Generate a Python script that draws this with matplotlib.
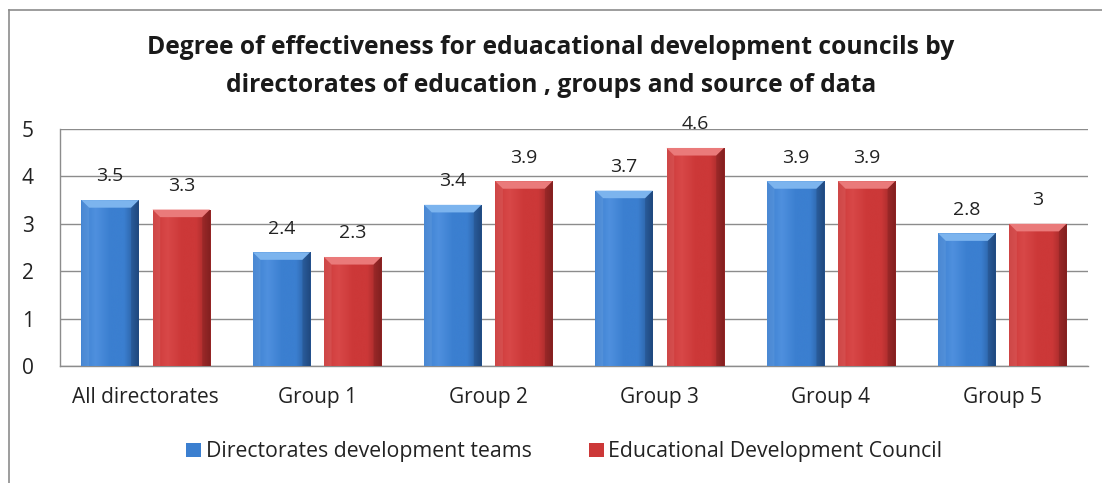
import numpy as np
import matplotlib.pyplot as plt
from matplotlib.patches import Polygon
from matplotlib.colors import LinearSegmentedColormap
from matplotlib.lines import Line2D

plt.rcParams['font.family'] = ['Open Sans', 'DejaVu Sans']

categories = ['All directorates', 'Group 1', 'Group 2', 'Group 3', 'Group 4', 'Group 5']
teams = [3.5, 2.4, 3.4, 3.7, 3.9, 2.8]
council = [3.3, 2.3, 3.9, 4.6, 3.9, 3.0]
series_names = ['Directorates development teams', 'Educational Development Council']
yticks = [0, 1, 2, 3, 4, 5]

# (dark edge, body, light highlight, bevel top)
blue = ('#24528f', '#3b7fd0', '#4f90de', '#7cb4ee')
red = ('#932424', '#cc3838', '#d84848', '#ea7a7a')

fig = plt.figure(figsize=(11.02, 4.83), dpi=100)
ax = fig.add_axes([60 / 1102, 1 - 366 / 483, 1028 / 1102, 237 / 483])

x = np.arange(len(categories))
w = 0.335
gap = 0.08

bars_a = ax.bar(x - (w + gap) / 2, teams, w, color=blue[1], zorder=2)
bars_b = ax.bar(x + (w + gap) / 2, council, w, color=red[1], zorder=2)


def shade(bars, pal):
    cmap = LinearSegmentedColormap.from_list(
        'g', [pal[1], pal[2], pal[1], pal[1], pal[0]])
    grad = np.linspace(0, 1, 64).reshape(1, -1)
    for b in bars:
        x0, y0 = b.get_x(), b.get_y()
        bw, bh = b.get_width(), b.get_height()
        im = ax.imshow(grad, cmap=cmap, aspect='auto', zorder=3,
                       extent=[x0, x0 + bw, y0, y0 + bh], interpolation='bicubic')
        im.set_clip_path(b)
        # bevelled cap at the top of each bar
        dx, dy = 0.045, 0.16
        top = y0 + bh
        cap = Polygon([[x0, top], [x0 + bw, top], [x0 + bw - dx, top - dy],
                       [x0 + dx, top - dy]], closed=True, facecolor=pal[3],
                      edgecolor='none', zorder=4)
        ax.add_patch(cap)
        ax.add_patch(Polygon([[x0, top], [x0 + dx, top - dy], [x0 + dx, y0], [x0, y0]],
                             facecolor='white', alpha=0.08, edgecolor='none', zorder=4))
        ax.add_patch(Polygon([[x0 + bw, top], [x0 + bw - dx, top - dy],
                              [x0 + bw - dx, y0], [x0 + bw, y0]],
                             facecolor='black', alpha=0.12, edgecolor='none', zorder=4))
        ax.annotate(f'{bh:g}', (x0 + bw / 2, top), xytext=(0, 17),
                    textcoords='offset points', ha='center', va='center',
                    fontsize=14, color='#222222', zorder=5)


shade(bars_a, blue)
shade(bars_b, red)

ax.set_xlim(-0.5, len(categories) - 0.5)
ax.set_ylim(0, 5)
ax.set_yticks(yticks)
ax.set_xticks(x)
ax.set_xticklabels(categories)
ax.tick_params(axis='both', length=0, labelsize=15, colors='#222222')
ax.tick_params(axis='y', pad=19)
ax.tick_params(axis='x', pad=15)
ax.yaxis.grid(True, color='#8c8c8c', linewidth=1.0, zorder=0)
ax.set_axisbelow(True)
for s in ['top', 'right']:
    ax.spines[s].set_visible(False)
for s in ['left', 'bottom']:
    ax.spines[s].set_color('#8c8c8c')
    ax.spines[s].set_linewidth(1.0)

fig.text(0.5, 1 - 47 / 483,
         'Degree of effectiveness for eduacational development councils by',
         ha='center', va='center', fontsize=17.7, fontweight='bold', color='#1a1a1a')
fig.text(0.5, 1 - 85 / 483,
         'directorates of education , groups and source of data',
         ha='center', va='center', fontsize=17.7, fontweight='bold', color='#1a1a1a')

fig.legend([bars_a, bars_b], series_names, loc='center', ncol=2,
           bbox_to_anchor=(0.512, 1 - 452 / 483), frameon=False, fontsize=15.3,
           handlelength=0.7, handleheight=0.65, handletextpad=0.2,
           columnspacing=2.7, labelcolor='#222222')

# chart frame
fig.add_artist(Line2D([9 / 1102, 9 / 1102], [0, 1 - 10 / 483], color='#8c8c8c', lw=1.2))
fig.add_artist(Line2D([9 / 1102, 1], [1 - 10 / 483, 1 - 10 / 483], color='#8c8c8c', lw=1.2))

fig.savefig('out.png', dpi=100)
